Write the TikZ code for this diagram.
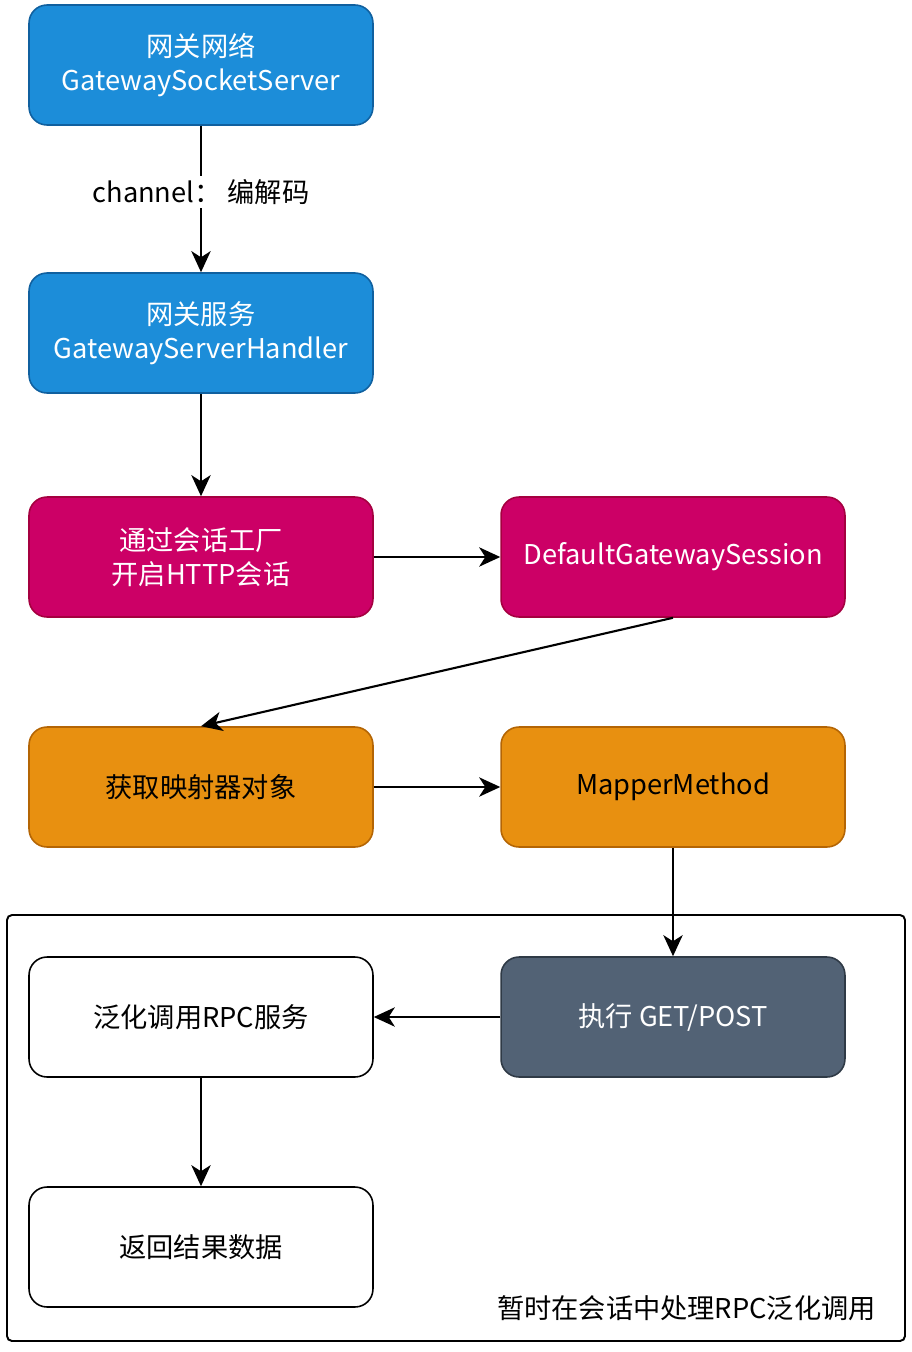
\documentclass[tikz,border=0pt]{standalone}
\usepackage{fontspec}
\setmainfont{Noto Sans CJK SC}
\usepackage{tikz}
\usetikzlibrary{arrows.meta, positioning, calc}
\definecolor{netBlue}{HTML}{1C8DD9}
\definecolor{netBlueLine}{HTML}{10609F}
\definecolor{sessRed}{HTML}{CC0066}
\definecolor{sessRedLine}{HTML}{A50040}
\definecolor{mapOrange}{HTML}{E89010}
\definecolor{mapOrangeLine}{HTML}{B46504}
\definecolor{execGrey}{HTML}{526275}
\definecolor{execGreyLine}{HTML}{2F3A46}
\tikzset{
    % Common
    flowArrow/.style={-{Stealth[length=12pt, width=11pt, inset=3.5pt]}, line width=1.2pt, draw=black},
    flowBox/.style={
        rectangle, rounded corners=0.36cm, line width=0.9pt,
        minimum width=6.88cm, minimum height=2.4cm, align=center,
        font=\fontsize{15.5}{19.5}\selectfont
    },
    % Box colours
    blueBox/.style={flowBox, fill=netBlue, draw=netBlueLine, text=white},
    redBox/.style={flowBox, fill=sessRed, draw=sessRedLine, text=white},
    orangeBox/.style={flowBox, fill=mapOrange, draw=mapOrangeLine, text=black},
    greyBox/.style={flowBox, fill=execGrey, draw=execGreyLine, text=white},
    plainBox/.style={flowBox, fill=white, draw=black, text=black},
    % Labels
    edgeLabel/.style={fill=white, inner sep=2pt, font=\fontsize{15.5}{19.5}\selectfont},
    groupFrame/.style={draw=black, line width=1.1pt, rounded corners=0.1cm}
}
\begin{document}
\begin{tikzpicture}[x=0.02cm, y=-0.02cm]
        \useasboundingbox (0,0) rectangle (912,1352);

        % Session group
        \draw[groupFrame] (7,915) rectangle (905,1341);
        \node[anchor=east, font=\fontsize{15.5}{19.5}\selectfont] (groupLabel) at (882,1308) {暂时在会话中处理RPC泛化调用};

        % Gateway
        \node[blueBox] (socketServer) at (201,65) {网关网络\\GatewaySocketServer};
        \node[blueBox] (serverHandler) at (201,333) {网关服务\\GatewayServerHandler};

        % Session
        \node[redBox] (sessionFactory) at (201,557) {通过会话工厂\\开启HTTP会话};
        \node[redBox] (defaultSession) at (673,557) {DefaultGatewaySession};

        % Mapper
        \node[orangeBox] (getMapper) at (201,787) {获取映射器对象};
        \node[orangeBox] (mapperMethod) at (673,787) {MapperMethod};

        % Execute
        \node[greyBox] (execute) at (673,1017) {执行 GET/POST};
        \node[plainBox] (genericCall) at (201,1017) {泛化调用RPC服务};
        \node[plainBox] (returnData) at (201,1247) {返回结果数据};

        % Connectors
        \draw[flowArrow] (socketServer) -- node[edgeLabel, pos=0.45] {channel： 编解码} (serverHandler);
        \draw[flowArrow] (serverHandler) -- (sessionFactory);
        \draw[flowArrow] (sessionFactory) -- (defaultSession);
        \draw[flowArrow] (defaultSession.south) -- (getMapper.north);
        \draw[flowArrow] (getMapper) -- (mapperMethod);
        \draw[flowArrow] (mapperMethod) -- (execute);
        \draw[flowArrow] (execute) -- (genericCall);
        \draw[flowArrow] (genericCall) -- (returnData);
    \end{tikzpicture}
\end{document}
